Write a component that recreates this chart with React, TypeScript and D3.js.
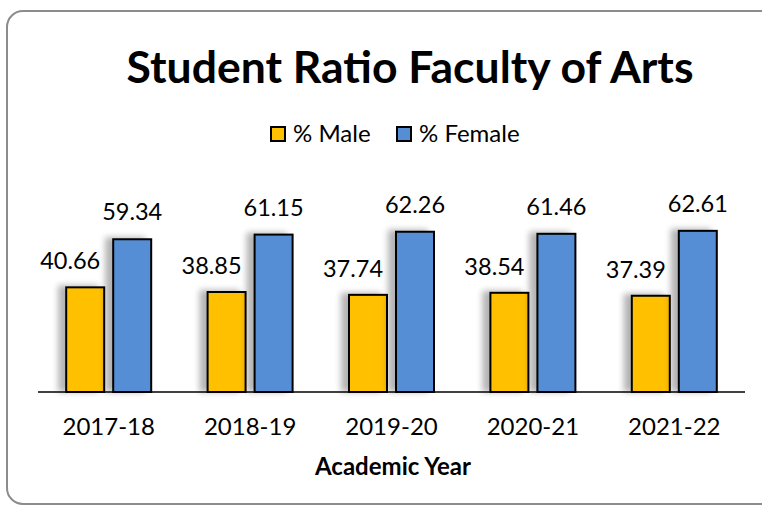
import * as d3 from 'd3';

const years = ["2017-18", "2018-19", "2019-20", "2020-21", "2021-22"];
const series = ["% Male", "% Female"];
const maleValues = [40.66, 38.85, 37.74, 38.54, 37.39];
const femaleValues = [59.34, 61.15, 62.26, 61.46, 62.61];
const colors = ["#FFC000", "#558ED5"];

const width = 762;
const height = 506;
const baseY = 392;
const font = "Lato, 'Open Sans', sans-serif";

export default function App() {
  const x0 = d3.scaleBand<string>().domain(years).range([38, 745]).padding(0);
  const x1 = d3.scaleBand<string>().domain(series).range([0, 85]).paddingInner(0.1915).paddingOuter(0);
  const y = d3.scaleLinear().domain([0, 70]).range([baseY, baseY - 70 * 2.574]);

  const groupLeft = (yr: string) => x0(yr)! + (x0.bandwidth() - 85) / 2;

  const data = years.map((yr, i) => ({ yr, vals: [maleValues[i], femaleValues[i]] }));

  return (
    <svg width={width} height={height} style={{ position: 'absolute', left: 0, top: 0 }}>
      <defs>
        <filter id="shadow" x="-50%" y="-20%" width="200%" height="140%">
          <feGaussianBlur in="SourceAlpha" stdDeviation="3" result="blur" />
          <feOffset in="blur" dx="-7" dy="-1" result="off" />
          <feComponentTransfer in="off" result="soft">
            <feFuncA type="linear" slope="0.3" />
          </feComponentTransfer>
          <feMerge>
            <feMergeNode in="soft" />
            <feMergeNode in="SourceGraphic" />
          </feMerge>
        </filter>
      </defs>
      <rect x={0} y={0} width={width} height={height} fill="#fff" />
      <rect x={7} y={11} width={770} height={493} rx={16} fill="#fff" stroke="#8c8c8c" strokeWidth={2} />

      <text x={410} y={83} textAnchor="middle" fontFamily={font} fontWeight="bold" fontSize={44.5} fill="#000">
        Student Ratio Faculty of Arts
      </text>

      {series.map((s, i) => {
        const lx = i === 0 ? 271 : 397;
        return (
          <g key={s}>
            <rect x={lx} y={127} width={14} height={14} fill={colors[i]} stroke="#000" strokeWidth={2} />
            <text x={lx + 22} y={141.5} fontFamily={font} fontSize={24} fill="#000">{s}</text>
          </g>
        );
      })}

      {data.map(d => (
        <g key={d.yr} transform={`translate(${groupLeft(d.yr)},0)`}>
          {d.vals.map((v, i) => (
            <rect key={i} x={x1(series[i])!} y={y(v)} width={x1.bandwidth()} height={baseY - y(v)}
              fill={colors[i]} stroke="#000" strokeWidth={2} filter="url(#shadow)" />
          ))}
          {d.vals.map((v, i) => (
            <text key={'t' + i} x={x1(series[i])! + x1.bandwidth() / 2 + (i === 0 ? -15 : 0)} y={y(v) - (i === 0 ? 18 : 19)}
              textAnchor="middle" fontFamily={font} fontSize={23.5} fill="#000">{v.toFixed(2)}</text>
          ))}
        </g>
      ))}

      <line x1={38} x2={745} y1={baseY} y2={baseY} stroke="#000" strokeWidth={1.5} />

      {years.map(yr => (
        <text key={yr} x={x0(yr)! + x0.bandwidth() / 2} y={435} textAnchor="middle" fontFamily={font} fontSize={24} fill="#000">{yr}</text>
      ))}

      <text x={393} y={475} textAnchor="middle" fontFamily={font} fontWeight="bold" fontSize={24} fill="#000">Academic Year</text>
    </svg>
  );
}
